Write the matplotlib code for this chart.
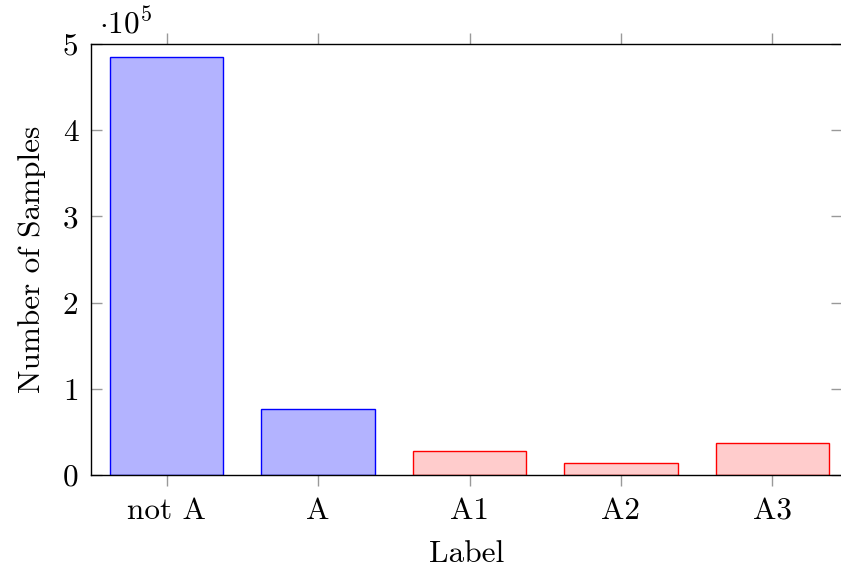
import matplotlib.pyplot as plt

labels = ['not A', 'A', 'A1', 'A2', 'A3']
samples = [485000, 77000, 27500, 13500, 37000]
fills = ['#b3b3ff', '#b3b3ff', '#ffcccc', '#ffcccc', '#ffcccc']
edges = ['blue', 'blue', 'red', 'red', 'red']

plt.rcParams['font.family'] = 'cmr10'
plt.rcParams['mathtext.fontset'] = 'cm'
plt.rcParams['axes.formatter.use_mathtext'] = True

fig = plt.figure(figsize=(8.41, 5.69), dpi=100)
ax = fig.add_axes([91/841, 94/569, 751/841, 431/569])

x = range(len(labels))
ax.bar(x, samples, width=0.75, color=fills, edgecolor=edges, linewidth=1)

ax.set_xlim(-0.5, 4.46)
ax.set_ylim(0, 5e5)
ax.set_xticks(list(x))
ax.set_xticklabels(labels)
ax.set_yticks([i * 1e5 for i in range(6)])
ax.set_yticklabels([str(i) for i in range(6)])

fs = 22.5
ax.tick_params(axis='x', direction='out', length=8, color='#999999', width=1,
               top=True, bottom=True, labelsize=fs, pad=8)
ax.tick_params(axis='y', direction='in', length=8, color='#999999', width=1,
               left=True, right=True, labelsize=fs, pad=9)
ax.spines['right'].set_visible(False)
for s in ['left', 'top', 'bottom']:
    ax.spines[s].set_linewidth(1)

ax.set_xlabel('Label', fontsize=fs, labelpad=11)
ax.set_ylabel('Number of Samples', fontsize=fs, labelpad=12)
ax.text(0.01, 1.01, r'$\cdot 10^5$', transform=ax.transAxes, fontsize=fs,
        ha='left', va='bottom')

fig.savefig('out.png')
